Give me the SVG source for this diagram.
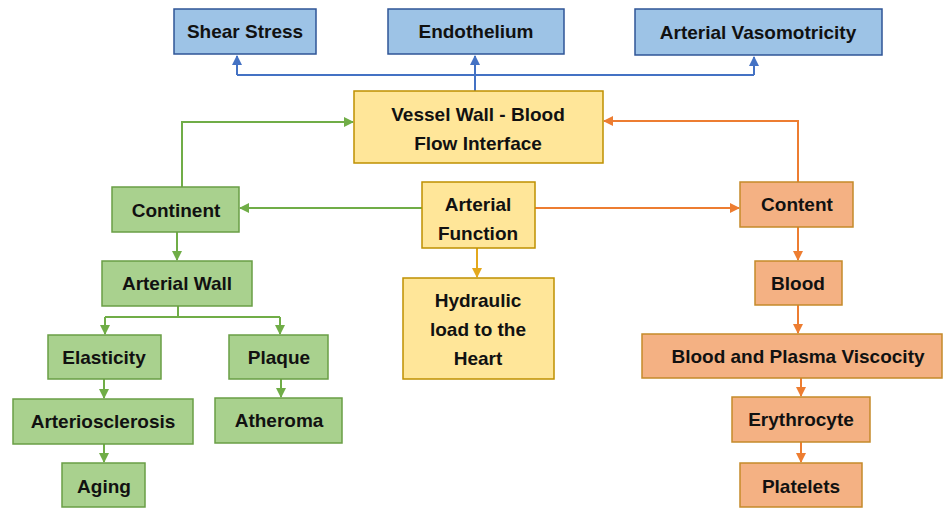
<svg xmlns="http://www.w3.org/2000/svg" width="943" height="508" viewBox="0 0 943 508">
<style>
text{font-family:"Liberation Sans",Arial,sans-serif;font-weight:bold;font-size:19px;fill:#111;text-anchor:middle}
.b rect{fill:#9DC3E6;stroke:#2F5597;stroke-width:1.5}
.y rect{fill:#FFE699;stroke:#BF9000;stroke-width:1.5}
.g rect{fill:#A9D18E;stroke:#6A9E45;stroke-width:1.5}
.o rect{fill:#F4B183;stroke:#C58A2A;stroke-width:1.5}
.cb{stroke:#4472C4;stroke-width:2;fill:none}
.cg{stroke:#70AD47;stroke-width:2;fill:none}
.co{stroke:#ED7D31;stroke-width:2;fill:none}
.cy{stroke:#E3A81C;stroke-width:2;fill:none}
</style>
<defs>
<marker id="ab" markerWidth="10" markerHeight="10" refX="9" refY="5" orient="auto" markerUnits="userSpaceOnUse"><path d="M0,0 L10,5 L0,10 Z" fill="#4472C4"/></marker>
<marker id="ag" markerWidth="10" markerHeight="10" refX="9" refY="5" orient="auto" markerUnits="userSpaceOnUse"><path d="M0,0 L10,5 L0,10 Z" fill="#70AD47"/></marker>
<marker id="ao" markerWidth="10" markerHeight="10" refX="9" refY="5" orient="auto" markerUnits="userSpaceOnUse"><path d="M0,0 L10,5 L0,10 Z" fill="#ED7D31"/></marker>
<marker id="ay" markerWidth="10" markerHeight="10" refX="9" refY="5" orient="auto" markerUnits="userSpaceOnUse"><path d="M0,0 L10,5 L0,10 Z" fill="#E3A81C"/></marker>
</defs>
<g id="connectors">
<path class="cb" d="M475,91 L475,56" marker-end="url(#ab)"/>
<path class="cb" d="M237,75 L754,75"/>
<path class="cb" d="M237,75 L237,56" marker-end="url(#ab)"/>
<path class="cb" d="M754,75 L754,57" marker-end="url(#ab)"/>
<path class="cg" d="M182,187 L182,122 L353,122" marker-end="url(#ag)"/>
<path class="co" d="M798,182 L798,121 L604,121" marker-end="url(#ao)"/>
<path class="cg" d="M422,208 L240,208" marker-end="url(#ag)"/>
<path class="co" d="M535,208 L739,208" marker-end="url(#ao)"/>
<path class="cy" d="M477,248 L477,277" marker-end="url(#ay)"/>
<path class="cg" d="M177,232 L177,260" marker-end="url(#ag)"/>
<path class="cg" d="M178,306 L178,317 M105,317 L280,317"/>
<path class="cg" d="M105,317 L105,334" marker-end="url(#ag)"/>
<path class="cg" d="M280,317 L280,334" marker-end="url(#ag)"/>
<path class="cg" d="M104,379 L104,398" marker-end="url(#ag)"/>
<path class="cg" d="M104,444 L104,462" marker-end="url(#ag)"/>
<path class="cg" d="M281,379 L281,397" marker-end="url(#ag)"/>
<path class="co" d="M798,227 L798,260" marker-end="url(#ao)"/>
<path class="co" d="M798,305 L798,333" marker-end="url(#ao)"/>
<path class="co" d="M801,378 L801,396" marker-end="url(#ao)"/>
<path class="co" d="M801,442 L801,462" marker-end="url(#ao)"/>
</g>
<g id="shear" class="b"><rect x="174" y="9" width="142" height="45"/><text x="245" y="38">Shear Stress</text></g>
<g id="endothelium" class="b"><rect x="388" y="9" width="176" height="45"/><text x="476" y="38">Endothelium</text></g>
<g id="vasomotricity" class="b"><rect x="635" y="9" width="247" height="46"/><text x="758" y="39">Arterial Vasomotricity</text></g>
<g id="interface" class="y"><rect x="354" y="91" width="249" height="72"/><text x="478" y="121">Vessel Wall - Blood</text><text x="478" y="150">Flow Interface</text></g>
<g id="function" class="y"><rect x="422" y="182" width="113" height="66"/><text x="478" y="211">Arterial</text><text x="478" y="240">Function</text></g>
<g id="hydraulic" class="y"><rect x="403" y="278" width="151" height="101"/><text x="478" y="307">Hydraulic</text><text x="478" y="336">load to the</text><text x="478" y="365">Heart</text></g>
<g id="continent" class="g"><rect x="112" y="187" width="127" height="45"/><text x="176" y="217">Continent</text></g>
<g id="wall" class="g"><rect x="102" y="261" width="150" height="45"/><text x="177" y="290">Arterial Wall</text></g>
<g id="elasticity" class="g"><rect x="48" y="335" width="113" height="44"/><text x="104" y="364">Elasticity</text></g>
<g id="plaque" class="g"><rect x="229" y="335" width="99" height="44"/><text x="279" y="364">Plaque</text></g>
<g id="arteriosclerosis" class="g"><rect x="13" y="399" width="180" height="45"/><text x="103" y="428">Arteriosclerosis</text></g>
<g id="atheroma" class="g"><rect x="215" y="398" width="127" height="45"/><text x="279" y="427">Atheroma</text></g>
<g id="aging" class="g"><rect x="62" y="463" width="83" height="44"/><text x="104" y="493">Aging</text></g>
<g id="content" class="o"><rect x="740" y="182" width="113" height="45"/><text x="797" y="211">Content</text></g>
<g id="blood" class="o"><rect x="755" y="261" width="87" height="44"/><text x="798" y="290">Blood</text></g>
<g id="viscosity" class="o"><rect x="642" y="334" width="300" height="44"/><text x="798" y="363">Blood and Plasma Viscocity</text></g>
<g id="erythrocyte" class="o"><rect x="732" y="397" width="138" height="45"/><text x="801" y="426">Erythrocyte</text></g>
<g id="platelets" class="o"><rect x="740" y="463" width="122" height="44"/><text x="801" y="493">Platelets</text></g>
</svg>
